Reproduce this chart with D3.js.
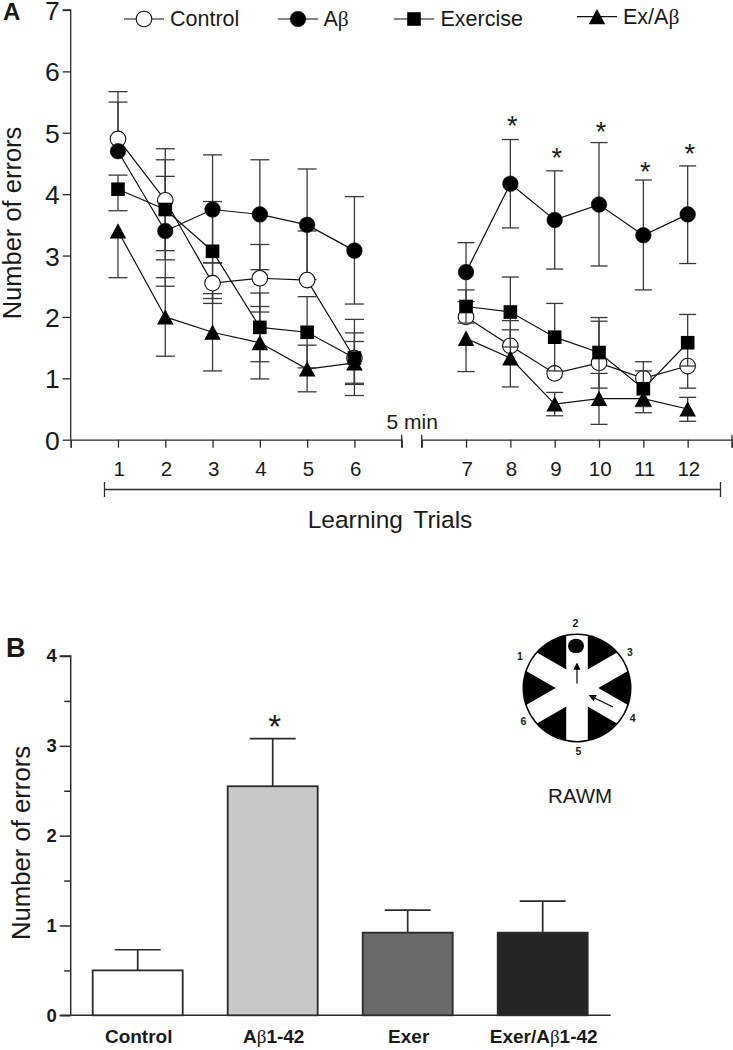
<!DOCTYPE html>
<html><head><meta charset="utf-8">
<script src="https://cdn.jsdelivr.net/npm/d3@7"></script>
<style>html,body{margin:0;padding:0;background:#fff}svg{display:block}text{font-family:"Liberation Sans",Arial,sans-serif;fill:#1a1a1a}</style>
</head><body><svg id="c" width="733" height="1050"></svg>
<script>
const trials=[1,2,3,4,5,6,7,8,9,10,11,12];
const control=[4.9,3.9,2.55,2.63,2.6,1.33,2.0,1.53,1.08,1.25,1.0,1.2];
const abeta=[4.7,3.4,3.75,3.67,3.5,3.08,2.73,4.17,3.58,3.83,3.33,3.67];
const exercise=[4.08,3.75,3.07,1.83,1.75,1.33,2.17,2.08,1.67,1.42,0.83,1.58];
const exAbeta=[3.4,2.0,1.75,1.58,1.15,1.25,1.65,1.33,0.58,0.67,0.67,0.5];
const controlHi=[5.67,4.74,2.88,3.18,3.4,1.96,null,1.94,null,1.93,1.27,null];
const controlLo=[null,3.08,2.22,2.08,null,0.72,null,null,null,null,null,0.84];
const abetaHi=[5.5,4.29,4.64,4.56,4.41,3.96,3.21,4.89,4.38,4.84,4.23,4.46];
const abetaLo=[null,2.5,2.88,2.77,2.61,2.21,2.25,3.45,2.78,2.83,2.44,2.87];
const exerciseHi=[4.31,4.56,3.88,2.39,2.33,1.74,2.44,2.65,2.22,1.99,1.12,2.04];
const exerciseLo=[3.73,2.93,2.3,1.27,1.17,0.92,1.9,1.51,1.12,0.84,0.54,1.2];
const exAbetaHi=[null,2.64,2.38,2.17,1.54,1.6,null,1.79,0.77,1.08,null,0.69];
const exAbetaLo=[2.64,1.36,1.12,0.99,0.78,0.9,1.11,0.86,0.39,0.25,0.44,0.3];
const starTrials=[8,9,10,11,12];
const starLevels=[5.21,4.69,5.12,4.47,4.76];
const seriesNames=["Control","Aβ","Exercise","Ex/Aβ"];
const barCats=["Control","Aβ1-42","Exer","Exer/Aβ1-42"];
const barVals=[0.5,2.55,0.92,0.92];
const barTops=[0.73,3.08,1.17,1.27];
const barFills=["#ffffff","#c8c8c8","#6a6a6a","#252525"];
const armLabels=["1","2","3","4","5","6"];

const ink="#2b2b2b",svg=d3.select("#c");
const xL=d3.scaleLinear([0,7],[70.7,401.7]);
const xR=d3.scaleLinear([6,13],[421.7,732]);
const x=t=>t<=6?xL(t):xR(t);
const y=d3.scaleLinear([0,7],[439.7,10]);
function styleAxis(g,w=1.3){g.selectAll("path,line").attr("stroke",ink).attr("stroke-width",w);}
function betaText(sel,s){
 s.split(/(β)/).filter(p=>p).forEach(p=>{const t=sel.append("tspan").text(p);
  if(p==="β") t.style("font-family","'Liberation Serif','DejaVu Serif',serif").style("font-weight","normal");});
 return sel;}

// panel A axes
svg.append("g").attr("transform","translate(70.7,0)").call(d3.axisLeft(y).ticks(7).tickSize(8).tickPadding(3).tickFormat(d3.format("d")))
 .call(g=>{styleAxis(g);g.selectAll("text").attr("font-size",26.5).attr("dy","0.36em");g.select(".domain").attr("d",`M-8,${y(7)}H0V${y(0)}`)});
const g1=svg.append("g").attr("transform",`translate(0,${y(0)})`);
g1.append("g").call(d3.axisBottom(xL).tickValues([0,1,2,3,4,5,6]).tickSize(8).tickFormat("")).call(styleAxis);
g1.append("g").call(d3.axisBottom(xR).tickValues([7,8,9,10,11,12]).tickSize(8).tickFormat("")).call(styleAxis);
[401.7,421.7,732].forEach(v=>g1.append("line").attr("x1",v).attr("x2",v).attr("y1",-5).attr("y2",8).attr("stroke",ink).attr("stroke-width",1.3));
trials.forEach(t=>svg.append("text").attr("x",x(t)+1.2).attr("y",476).attr("text-anchor","middle").attr("font-size",20.5).text(t));
svg.append("text").attr("x",386.5).attr("y",429).attr("font-size",21).text("5 min");
svg.append("path").attr("d","M104.5,482V497M104.5,489.5H720.5M720.5,482V497").attr("fill","none").attr("stroke",ink).attr("stroke-width",1.3);
svg.append("text").attr("x",390).attr("y",528).attr("text-anchor","middle").attr("font-size",24.5).attr("word-spacing",4).text("Learning Trials");
svg.append("text").attr("transform","translate(20.5,223) rotate(-90)").attr("text-anchor","middle").attr("font-size",25.5).text("Number of errors");
svg.append("text").attr("x",3).attr("y",20).attr("font-size",24).attr("font-weight","bold").text("A");

// series
const all=[control,abeta,exercise,exAbeta];
const his=[controlHi,abetaHi,exerciseHi,exAbetaHi];
const los=[controlLo,abetaLo,exerciseLo,exAbetaLo];
const segs=[[0,6],[6,12]];
const marker=(sel,k)=>{
 if(k<2) sel.append("circle").attr("r",7.8).attr("fill",k==0?"#fff":"#000").attr("stroke","#111").attr("stroke-width",k==0?1.1:0.6);
 else if(k==2) sel.append("rect").attr("x",-6.8).attr("y",-6.8).attr("width",13.6).attr("height",13.6).attr("fill","#000");
 else sel.append("path").attr("d",d3.symbol(d3.symbolTriangle,118)()).attr("fill","#000").attr("transform","translate(0,2.4) scale(1,1.07)");
};
const drawLine=k=>{
 const line=d3.line().x(d=>x(d[0])).y(d=>y(d[1]));
 segs.forEach(([a,b])=>svg.append("path").attr("d",line(trials.slice(a,b).map((t,i)=>[t,all[k][a+i]]))).attr("fill","none").attr("stroke","#111").attr("stroke-width",1.2));
};
const drawErr=k=>trials.forEach((t,i)=>{
 const cx=x(t),hw=t<=6?9.5:8.5,hi=his[k][i],lo=los[k][i],m=all[k][i];
 svg.append("line").attr("x1",cx).attr("x2",cx).attr("y1",y(hi??m)).attr("y2",y(lo??m)).attr("stroke","#3a3a3a").attr("stroke-width",1.3);
 [hi,lo].filter(v=>v!=null).forEach(v=>svg.append("line").attr("x1",cx-hw).attr("x2",cx+hw).attr("y1",y(v)).attr("y2",y(v)).attr("stroke","#3a3a3a").attr("stroke-width",1.3));
});
const drawMarks=(k,test)=>trials.forEach((t,i)=>{ if(test(t)) marker(svg.append("g").attr("transform",`translate(${x(t)},${y(all[k][i])})`),k); });
const early=t=>t<=6,late=t=>t>6,any=()=>true;
drawErr(0);drawLine(0);drawMarks(0,late);
[3,1,2].forEach(k=>{drawErr(k);drawLine(k);});
drawMarks(0,early);
[3,1,2].forEach(k=>drawMarks(k,any));
starTrials.forEach((t,i)=>svg.append("text").attr("x",x(t)+2).attr("y",y(starLevels[i])+15.6).attr("text-anchor","middle").attr("font-size",27).text("*"));
// legend
[[124,164,170,19,26],[278,318,323.5,19,26],[394,434,440.5,19,26],[577,617,623,16.7,24]].forEach(([a,b,tx,ly,by],k)=>{
 svg.append("line").attr("x1",a).attr("x2",b).attr("y1",ly).attr("y2",ly).attr("stroke","#111").attr("stroke-width",1.2);
 marker(svg.append("g").attr("transform",`translate(${(a+b)/2},${ly})`),k);
 betaText(svg.append("text").attr("x",tx).attr("y",by).attr("font-size",21.5),seriesNames[k]);
});

// panel B
const yB=d3.scaleLinear([0,4],[1015.3,656]);
const xB=d3.scaleBand(barCats,[70.7,609.7]).paddingInner(1/3).paddingOuter(0.163);
svg.append("g").attr("transform","translate(70.7,0)").call(d3.axisLeft(yB).tickValues(d3.range(0,4.5,0.5)).tickSize(11).tickPadding(3).tickFormat(d=>Number.isInteger(d)?d:""))
 .call(g=>{styleAxis(g,1.5);g.selectAll("text").attr("font-size",18.5).attr("font-weight","bold");g.select(".domain").attr("d",`M-11,${yB(4)}H0V${yB(0)}`);
   g.selectAll(".tick").filter(d=>!Number.isInteger(d)).select("line").attr("x2",-6.5);});
svg.append("line").attr("x1",59.7).attr("x2",610.7).attr("y1",yB(0)).attr("y2",yB(0)).attr("stroke",ink).attr("stroke-width",1.5);
barCats.forEach((c,i)=>{
 const bx=xB(c),w=xB.bandwidth(),cx=bx+w/2;
 svg.append("line").attr("x1",cx).attr("x2",cx).attr("y1",yB(barTops[i])).attr("y2",yB(barVals[i])).attr("stroke",ink).attr("stroke-width",1.7);
 svg.append("line").attr("x1",cx-23).attr("x2",cx+23).attr("y1",yB(barTops[i])).attr("y2",yB(barTops[i])).attr("stroke",ink).attr("stroke-width",1.7);
 svg.append("rect").attr("x",bx).attr("y",yB(barVals[i])).attr("width",w).attr("height",yB(0)-yB(barVals[i])).attr("fill",barFills[i]).attr("stroke",ink).attr("stroke-width",1.8);
 betaText(svg.append("text").attr("x",cx+1).attr("y",1043).attr("text-anchor","middle").attr("font-size",19).attr("font-weight","bold"),c);
});
svg.append("text").attr("x",xB(barCats[1])+xB.bandwidth()/2+2).attr("y",yB(barTops[1])-1).attr("text-anchor","middle").attr("font-size",33).text("*");
svg.append("text").attr("transform","translate(30,843) rotate(-90)").attr("text-anchor","middle").attr("font-size",25.7).text("Number of errors");
svg.append("text").attr("x",6).attr("y",657).attr("font-size",27).attr("font-weight","bold").text("B");

// maze schematic
const maze=svg.append("g").attr("transform","translate(577,688)");
const rr=54.5;
svg.append("clipPath").attr("id","mz").append("circle").attr("r",rr-1.6);
maze.append("circle").attr("r",rr).attr("fill","#000");
const inner=maze.append("g").attr("clip-path","url(#mz)");
[0,60,120].forEach(a=>inner.append("rect").attr("x",-10.8).attr("y",-60).attr("width",21.6).attr("height",120).attr("fill","#fff").attr("transform",`rotate(${a})`));
maze.append("ellipse").attr("cx",-1).attr("cy",-42).attr("rx",8).attr("ry",7.3).attr("fill","#000");
svg.append("defs").append("marker").attr("id","ah").attr("viewBox","0 0 10 10").attr("refX",8).attr("refY",5).attr("markerWidth",6).attr("markerHeight",6).attr("orient","auto").append("path").attr("d","M0,0L10,5L0,10Z").attr("fill","#000");
maze.append("line").attr("x1",0).attr("y1",-4.5).attr("x2",0).attr("y2",-24).attr("stroke","#000").attr("stroke-width",1.2).attr("marker-end","url(#ah)");
maze.append("line").attr("x1",36).attr("y1",19).attr("x2",13).attr("y2",7.7).attr("stroke","#000").attr("stroke-width",1.2).attr("marker-end","url(#ah)");
armLabels.forEach((l,i)=>{
 const pos=[[-57,-31.3],[-1.7,-65],[53,-35.3],[55.7,30.3],[1.3,63.7],[-53.7,33.7]][i];
 maze.append("text").attr("x",pos[0]).attr("y",pos[1]).attr("text-anchor","middle").attr("font-size",10.5).attr("font-weight","bold").attr("dy","0.35em").text(l);
});
svg.append("text").attr("x",580).attr("y",803).attr("text-anchor","middle").attr("font-size",20.5).text("RAWM");
</script></body></html>
